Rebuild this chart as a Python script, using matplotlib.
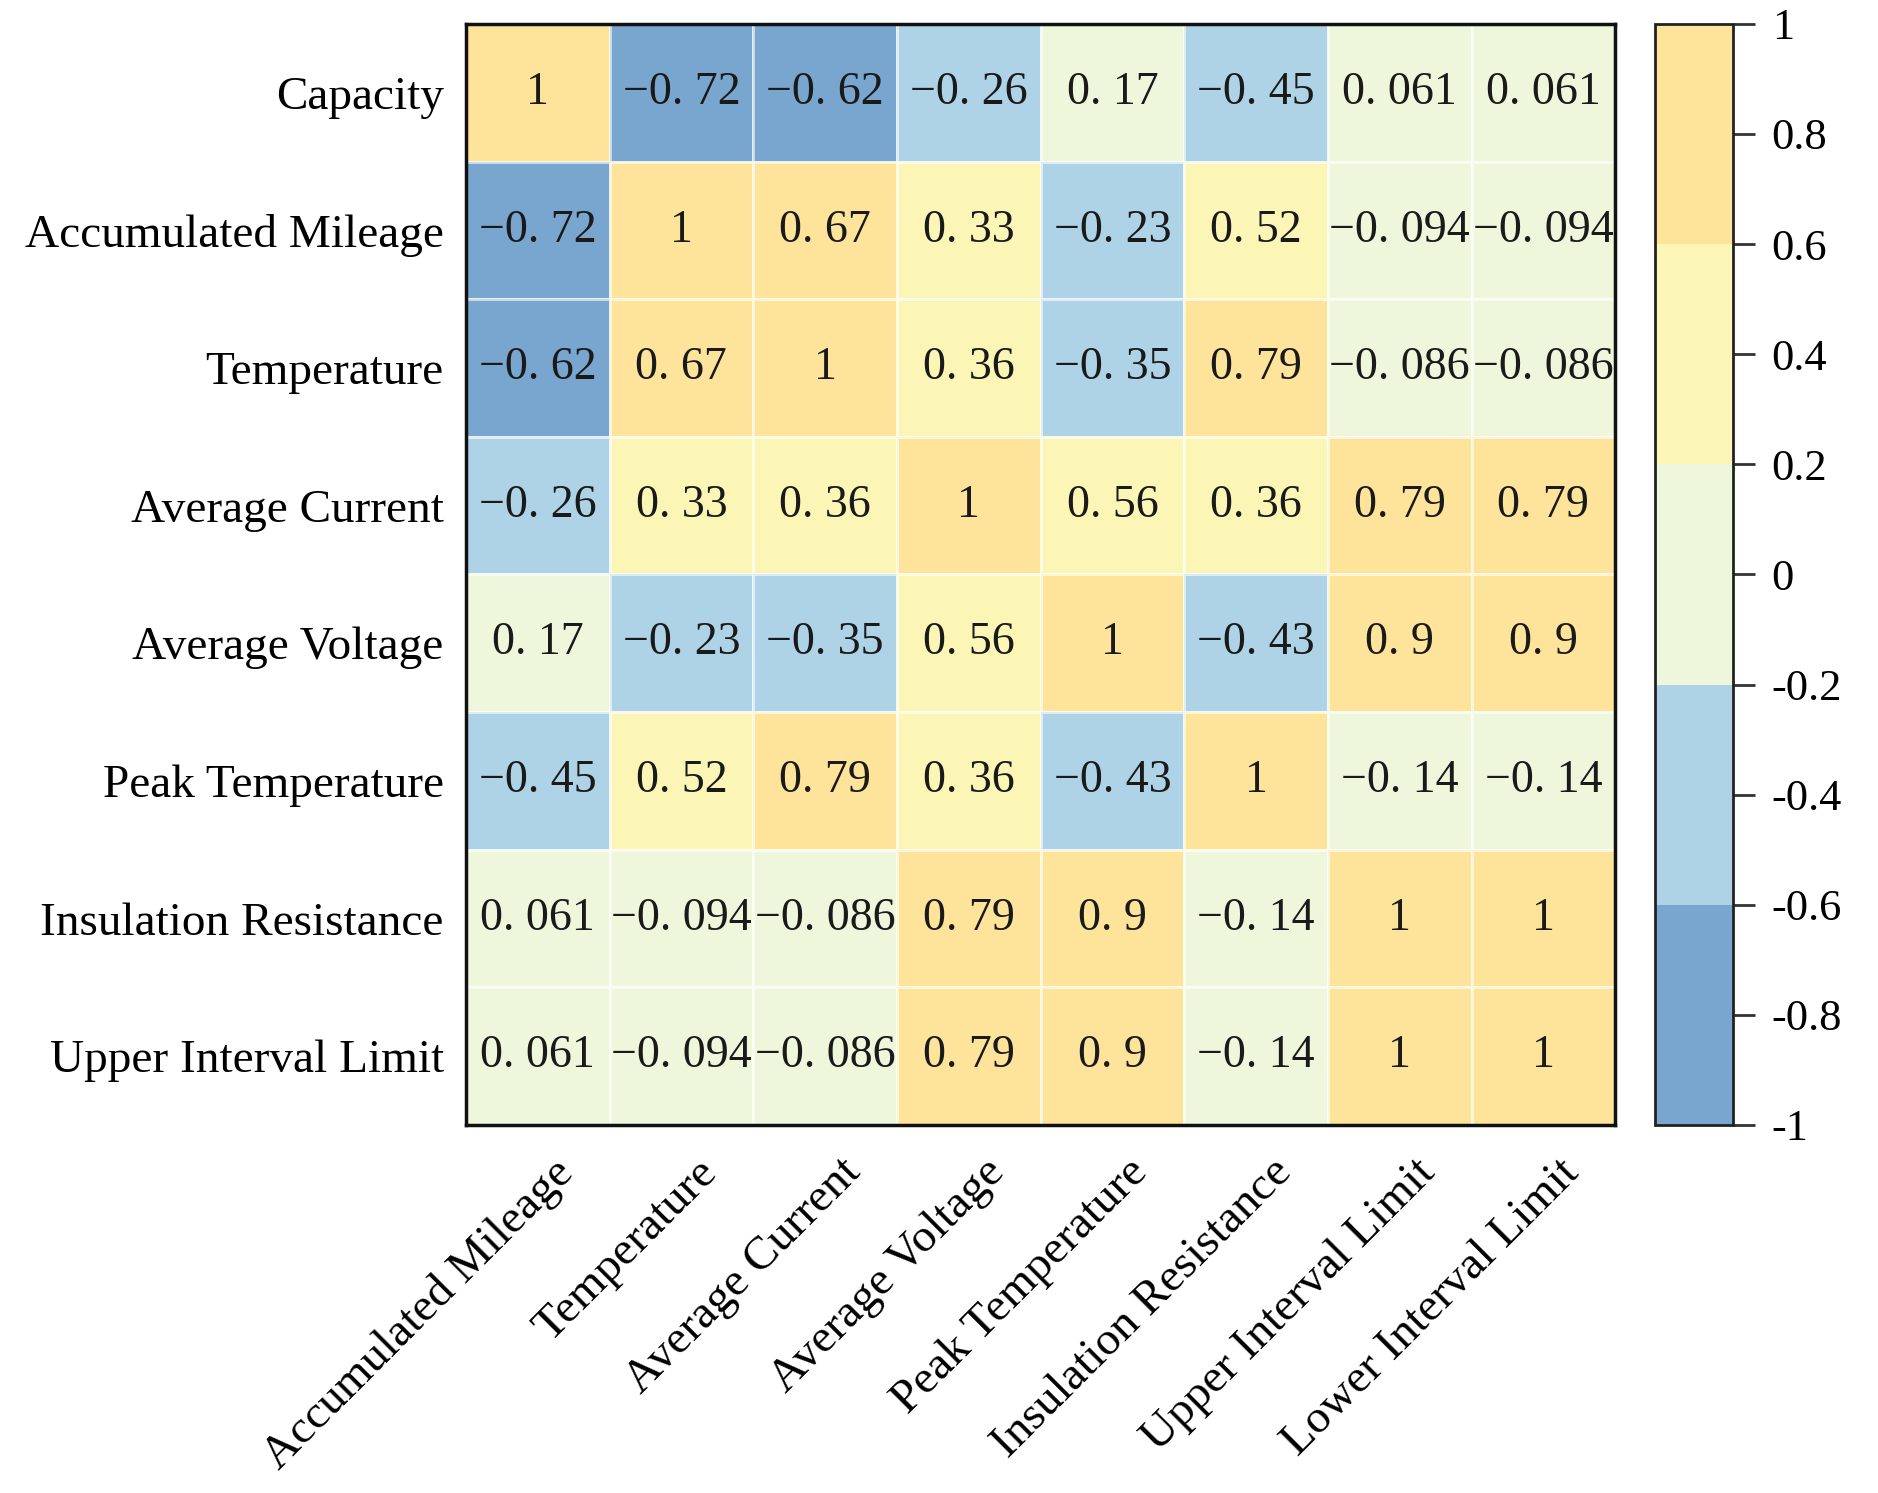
import matplotlib
matplotlib.use('Agg')
import matplotlib.pyplot as plt
import matplotlib.transforms as mtransforms
import numpy as np
from matplotlib.colors import ListedColormap, BoundaryNorm

row_names = ['Capacity', 'Accumulated Mileage', 'Temperature', 'Average Current',
             'Average Voltage', 'Peak Temperature', 'Insulation Resistance',
             'Upper Interval Limit']
col_names = ['Accumulated Mileage', 'Temperature', 'Average Current', 'Average Voltage',
             'Peak Temperature', 'Insulation Resistance', 'Upper Interval Limit',
             'Lower Interval Limit']

corr = np.array([
    [1, -0.72, -0.62, -0.26, 0.17, -0.45, 0.061, 0.061],
    [-0.72, 1, 0.67, 0.33, -0.23, 0.52, -0.094, -0.094],
    [-0.62, 0.67, 1, 0.36, -0.35, 0.79, -0.086, -0.086],
    [-0.26, 0.33, 0.36, 1, 0.56, 0.36, 0.79, 0.79],
    [0.17, -0.23, -0.35, 0.56, 1, -0.43, 0.9, 0.9],
    [-0.45, 0.52, 0.79, 0.36, -0.43, 1, -0.14, -0.14],
    [0.061, -0.094, -0.086, 0.79, 0.9, -0.14, 1, 1],
    [0.061, -0.094, -0.086, 0.79, 0.9, -0.14, 1, 1],
])

cbar_ticks = [-1, -0.8, -0.6, -0.4, -0.2, 0, 0.2, 0.4, 0.6, 0.8, 1]
cbar_labels = ['-1', '-0.8', '-0.6', '-0.4', '-0.2', '0', '0.2', '0.4', '0.6', '0.8', '1']

colors = ['#79a6cf', '#aed3e6', '#eef6dc', '#fcf6b6', '#fde49a']
bounds = [-1, -0.6, -0.2, 0.2, 0.6, 1]
cmap = ListedColormap(colors)
norm = BoundaryNorm(bounds, cmap.N)

plt.rcParams['font.family'] = ['Liberation Serif', 'DejaVu Serif']
plt.rcParams['axes.unicode_minus'] = True

fig = plt.figure(figsize=(18.78, 14.93), dpi=100)
ax = fig.add_axes([0.2481, 0.2465, 0.612, 0.7375])

n = corr.shape[0]
mesh = ax.pcolormesh(np.arange(n + 1), np.arange(n + 1), corr, cmap=cmap, norm=norm,
                     edgecolors=(1, 1, 1, 0.6), linewidth=1.0)
ax.set_xlim(0, n)
ax.set_ylim(n, 0)

for i in range(n):
    for j in range(n):
        v = corr[i, j]
        s = f'{v:g}'.replace('-', '\u2212').replace('.', '. ')
        ax.text(j + 0.5, i + 0.5, s, ha='center', va='center', fontsize=33, color='#1a1a1a')

ax.set_xticks(np.arange(n) + 0.5)
ax.set_yticks(np.arange(n) + 0.5)
ax.set_xticklabels(col_names, rotation=45, ha='right', rotation_mode='anchor', fontsize=34)
ax.set_yticklabels(row_names, fontsize=34)
ax.tick_params(length=0, pad=16)
# nudge the rotated labels a little to the right
shift = mtransforms.ScaledTranslation(0.14, -0.04, fig.dpi_scale_trans)
for lab in ax.get_xticklabels():
    lab.set_transform(lab.get_transform() + shift)
for sp in ax.spines.values():
    sp.set_linewidth(2.5)
    sp.set_color('#111111')

cax = fig.add_axes([0.8812, 0.2465, 0.0415, 0.7375])
cb = fig.colorbar(mesh, cax=cax, ticks=cbar_ticks)
cb.ax.set_yticklabels(cbar_labels, fontsize=32)
cb.ax.tick_params(length=16, width=2, color='#333333', pad=12)
cb.outline.set_linewidth(2)
cb.outline.set_edgecolor('#222222')

plt.savefig('out.png', dpi=100)
